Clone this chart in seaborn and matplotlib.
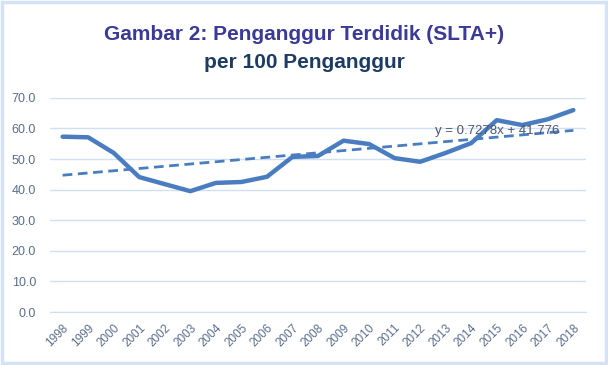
import numpy as np
import pandas as pd
import matplotlib
matplotlib.use("Agg")
import matplotlib.pyplot as plt
import seaborn as sns
from matplotlib.ticker import FixedLocator, FormatStrFormatter
from matplotlib.patches import Rectangle

years = [str(y) for y in range(1998, 2019)]
persen = [57.3, 57.1, 52.0, 44.1, 41.8, 39.5, 42.2, 42.5, 44.2, 50.7, 51.0,
          56.0, 54.9, 50.3, 49.1, 52.0, 55.2, 62.7, 61.1, 63.0, 66.0]
yticks = [0, 10, 20, 30, 40, 50, 60, 70]
judul1 = "Gambar 2: Penganggur Terdidik (SLTA+)"
judul2 = "per 100 Penganggur"
persamaan = "y = 0.7278x + 41.776"

sns.set_style("white")
plt.rcParams["font.family"] = ["Liberation Sans", "DejaVu Sans"]

garis = "#4a7dc0"
grid = "#cfe0f2"
teks = "#5a6e8c"

df = pd.DataFrame({"pos": np.arange(len(years)), "nilai": persen})

fig = plt.figure(figsize=(6.08, 3.65), dpi=100)
ax = fig.add_axes([0.082, 0.145, 0.882, 0.587])

sns.lineplot(data=df, x="pos", y="nilai", color=garis, linewidth=3.2, ax=ax)

# garis tren linear
k = np.polyfit(df["pos"] + 1, df["nilai"], 1)
tren = np.polyval(k, df["pos"] + 1)
ax.plot(df["pos"], tren, color=garis, linewidth=2.0, linestyle=(0, (3.5, 2)))

ax.text(14.6, 59.0, persamaan, fontsize=9.5, color="#4a5670", va="center")

ax.set_xlim(-0.5, len(years) - 0.5)
ax.set_ylim(0, 70)
ax.set_yticks(yticks)
ax.yaxis.set_major_formatter(FormatStrFormatter("%.1f"))
ax.set_xticks(df["pos"])
ax.set_xticklabels(years, rotation=45, ha="right", rotation_mode="anchor")
ax.xaxis.set_minor_locator(FixedLocator(np.arange(-0.5, len(years), 1)))
ax.tick_params(axis="x", which="major", length=0, pad=7, labelsize=8.5, labelcolor=teks)
ax.tick_params(axis="x", which="minor", length=4, color=grid, width=1)
ax.tick_params(axis="y", length=0, pad=10, labelsize=9, labelcolor=teks)

ax.grid(axis="y", color=grid, linewidth=1)
ax.set_axisbelow(True)
for s in ["top", "right", "left"]:
    ax.spines[s].set_visible(False)
ax.spines["bottom"].set_color(grid)
ax.set_xlabel("")
ax.set_ylabel("")

fig.text(0.5, 0.905, judul1, ha="center", va="center", fontsize=15,
         fontweight="bold", color="#3b3a96")
fig.text(0.5, 0.83, judul2, ha="center", va="center", fontsize=15,
         fontweight="bold", color="#1d3c63")

fig.patches.append(Rectangle((0.003, 0.005), 0.994, 0.99, transform=fig.transFigure,
                             fill=False, edgecolor="#d4e3f3", linewidth=2.5))

fig.savefig("out.png", dpi=100)
